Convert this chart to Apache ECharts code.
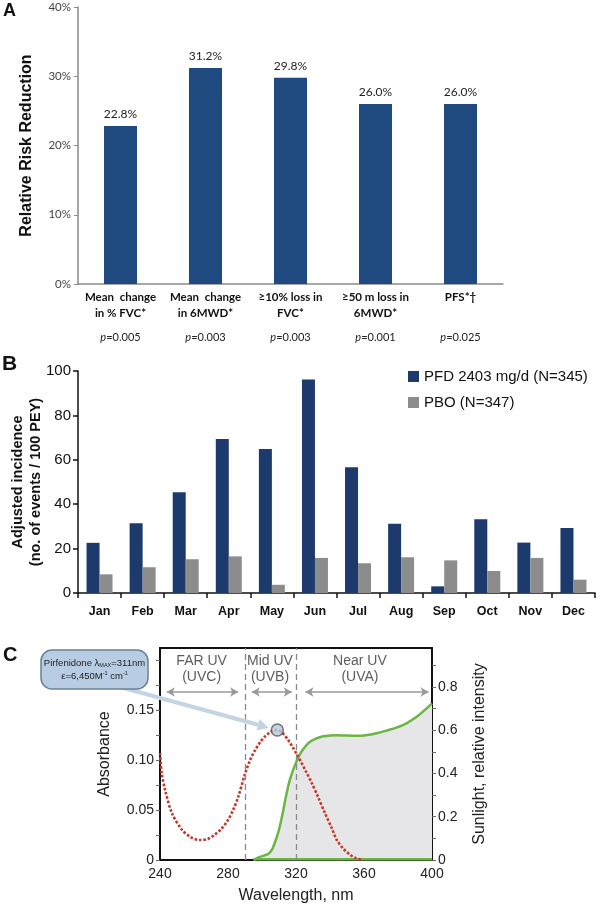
<!DOCTYPE html>
<html><head><meta charset="utf-8">
<script src="https://cdn.jsdelivr.net/npm/echarts@6/dist/echarts.min.js"></script>
<style>html,body{margin:0;padding:0;background:#fff}#c{width:600px;height:908px}</style>
</head><body><div id="c"></div>
<script>
// ---- Panel A data ----
const aCategories = ['Mean  change\nin % FVC*', 'Mean  change\nin 6MWD*', '≥10% loss in\nFVC*', '≥50 m loss in\n6MWD*', 'PFS*†'];
const aValues = [22.8, 31.2, 29.8, 26.0, 26.0];
const aPValues = ['0.005', '0.003', '0.003', '0.001', '0.025'];
const aTicks = [0, 10, 20, 30, 40];

// ---- Panel B data ----
const bMonths = ['Jan','Feb','Mar','Apr','May','Jun','Jul','Aug','Sep','Oct','Nov','Dec'];
const bPfd = [22.6, 31.4, 45.4, 69.4, 64.9, 96.2, 56.6, 31.2, 3.0, 33.2, 22.7, 29.3];
const bPbo = [8.4, 11.6, 15.2, 16.5, 3.7, 15.8, 13.4, 16.1, 14.7, 9.9, 15.8, 6.0];
const bSeriesNames = ['PFD 2403 mg/d (N=345)', 'PBO (N=347)'];

// ---- Panel C data ----
const absWavelength = [240,241,243,247,253,258,263,268,272,276,280,283,286,290,293,296,299,302,305,307,309,312,315,318,321,323,326,329,333,337,341,344,348,352,355,359];
const absValue =      [0.107,0.087,0.070,0.047,0.030,0.023,0.020,0.021,0.025,0.031,0.040,0.050,0.063,0.086,0.100,0.110,0.118,0.124,0.128,0.130,0.130,0.127,0.121,0.113,0.104,0.098,0.088,0.078,0.063,0.047,0.032,0.020,0.011,0.005,0.002,0.000];
const sunWavelength = [295,298,301,304,306,308,310,312,314,316,318,320,322,325,328,332,336,340,344,350,356,362,368,374,379,385,391,396,400];
const sunValue =      [0.000,0.012,0.020,0.030,0.050,0.090,0.140,0.210,0.290,0.360,0.410,0.450,0.485,0.520,0.545,0.562,0.572,0.576,0.577,0.575,0.574,0.578,0.587,0.600,0.612,0.632,0.662,0.695,0.724];
const sunBaseline = [[295, 0.004], [400, 0.004]];
const peakPoint = [309, 0.130];
const uvBoundaries = [290, 320];
const uvBands = [
  {name: 'FAR UV\n(UVC)', center: 264.5, from: 244, to: 286},
  {name: 'Mid UV\n(UVB)', center: 304.7, from: 294, to: 317.5},
  {name: 'Near UV\n(UVA)', center: 357.6, from: 325.5, to: 398}
];
const bandLabelY = 0.1905;
const bandArrowY = 0.168;

const chart = echarts.init(document.getElementById('c'), null, {renderer: 'canvas'});
const ARIAL = '"Liberation Sans", Arial, sans-serif';
const CAL = 'Lato, "Open Sans", sans-serif';

const option = {
  animation: false,
  backgroundColor: '#fff',
  textStyle: {fontFamily: ARIAL},
  grid: [
    {left: 78, top: 7, width: 425, height: 277, outerBoundsMode: 'none', containLabel: false},
    {left: 78, top: 371, width: 517, height: 222, outerBoundsMode: 'none', containLabel: false},
    {left: 160, top: 648, width: 272, height: 212, outerBoundsMode: 'none', containLabel: false,
     show: true, borderColor: '#111', borderWidth: 2, backgroundColor: 'transparent'}
  ],
  legend: {
    data: bSeriesNames,
    orient: 'vertical', left: 403, top: 364,
    itemWidth: 11, itemHeight: 11, itemGap: 11,
    icon: 'rect',
    textStyle: {fontSize: 15, color: '#111', fontFamily: ARIAL}
  },
  xAxis: [
    {gridIndex: 0, type: 'category', data: aCategories,
     axisLine: {lineStyle: {color: '#8a8a8a', width: 1.5}},
     axisTick: {show: false},
     axisLabel: {
       interval: 0, margin: 5,
       formatter: (val, idx) => {
         const l = val.split('\n');
         return '{b|' + l[0] + '}\n{b|' + (l[1] || ' ') + '}\n{i|p}{n|=' + aPValues[idx] + '}';
       },
       rich: {
         b: {fontFamily: CAL, fontWeight: 'bold', fontSize: 11.5, lineHeight: 16, color: '#111'},
         i: {fontFamily: CAL, fontStyle: 'italic', fontSize: 11, lineHeight: 32, color: '#222'},
         n: {fontFamily: CAL, fontSize: 11, lineHeight: 32, color: '#222'}
       }
     }},
    {gridIndex: 1, type: 'category', data: bMonths,
     axisLine: {lineStyle: {color: '#111', width: 1.5}},
     axisTick: {show: true, length: 5, lineStyle: {color: '#111', width: 1.5}},
     axisLabel: {margin: 12, fontWeight: 'bold', fontSize: 12.5, color: '#111', fontFamily: ARIAL}},
    {gridIndex: 2, type: 'value', min: 240, max: 400, interval: 40,
     axisLine: {show: false}, axisTick: {show: false}, splitLine: {show: false},
     axisLabel: {fontSize: 14, color: '#222', margin: 7},
     name: 'Wavelength, nm', nameLocation: 'middle', nameGap: 28,
     nameTextStyle: {fontSize: 16, color: '#222'}}
  ],
  yAxis: [
    {gridIndex: 0, type: 'value', min: 0, max: 40, interval: 10,
     axisLine: {show: true, lineStyle: {color: '#8a8a8a', width: 1.5}},
     axisTick: {show: true, length: 4, lineStyle: {color: '#8a8a8a'}},
     splitLine: {show: false},
     axisLabel: {formatter: '{value}%', fontSize: 11.5, color: '#444', fontFamily: CAL, margin: 7},
     name: 'Relative Risk Reduction', nameLocation: 'middle', nameGap: 43, nameMoveOverlap: false,
     nameTextStyle: {fontSize: 16, fontWeight: 'bold', color: '#111', fontFamily: ARIAL}},
    {gridIndex: 1, type: 'value', min: 0, max: 100, interval: 20,
     axisLine: {show: true, lineStyle: {color: '#111', width: 1.5}},
     axisTick: {show: true, length: 5, lineStyle: {color: '#111', width: 1.5}},
     splitLine: {show: false},
     axisLabel: {fontSize: 15, color: '#111', margin: 7},
     name: 'Adjusted incidence\n(no. of events / 100 PEY)', nameLocation: 'middle', nameGap: 33, nameMoveOverlap: false,
     nameTextStyle: {fontSize: 14.5, fontWeight: 'bold', color: '#111', lineHeight: 18}},
    {gridIndex: 2, type: 'value', min: 0, max: 0.212, interval: 0.025,
     axisLine: {show: false},
     axisTick: {show: true, length: 4, lineStyle: {color: '#666'}},
     splitLine: {show: false},
     axisLabel: {fontSize: 14, color: '#222', margin: 6, showMaxLabel: false,
       formatter: v => {
         const k = v / 0.05;
         if (Math.abs(k - Math.round(k)) > 1e-6 || v > 0.19) return '';
         return v < 1e-9 ? '0' : v.toFixed(2);
       }},
     name: 'Absorbance', nameLocation: 'middle', nameGap: 47,
     nameTextStyle: {fontSize: 16, color: '#222'}},
    {gridIndex: 2, type: 'value', position: 'right', min: 0, max: 0.98, interval: 0.1,
     axisLine: {show: false},
     axisTick: {show: true, length: 4, lineStyle: {color: '#666'}},
     splitLine: {show: false},
     axisLabel: {fontSize: 14, color: '#222', margin: 6, showMaxLabel: false,
       formatter: v => {
         const k = v / 0.2;
         if (Math.abs(k - Math.round(k)) > 1e-6 || v > 0.85) return '';
         return v < 1e-9 ? '0' : v.toFixed(1);
       }},
     name: 'Sunlight, relative intensity', nameLocation: 'middle', nameGap: 40,
     nameTextStyle: {fontSize: 16, color: '#222'}}
  ],
  series: [
    {name: 'Relative Risk Reduction', type: 'bar', xAxisIndex: 0, yAxisIndex: 0,
     data: aValues, barWidth: 33,
     itemStyle: {color: '#1f4a80'},
     label: {show: true, position: 'top', distance: 6, formatter: p => p.value.toFixed(1) + '%',
       fontSize: 12, color: '#222', fontFamily: CAL}},
    {name: bSeriesNames[0], type: 'bar', xAxisIndex: 1, yAxisIndex: 1,
     data: bPfd, barWidth: 13, barGap: '0%', itemStyle: {color: '#1c3a6c'}},
    {name: bSeriesNames[1], type: 'bar', xAxisIndex: 1, yAxisIndex: 1,
     data: bPbo, barWidth: 13, barGap: '0%', itemStyle: {color: '#8c8c8c'}},
    {name: 'Sunlight', type: 'line', xAxisIndex: 2, yAxisIndex: 3,
     data: sunWavelength.map((w, i) => [w, sunValue[i]]),
     smooth: 0.3, showSymbol: false, symbol: 'none',
     lineStyle: {color: '#6cb544', width: 2.5},
     areaStyle: {color: '#e6e6e9', opacity: 1},
     z: 2,
     markLine: {
       silent: true, animation: false, symbol: ['none', 'none'],
       lineStyle: {color: '#8a8a8a', type: [6, 4], width: 1.3},
       label: {show: false},
       data: uvBoundaries.map(x => ({xAxis: x}))
     }},
    {name: 'SunBase', type: 'line', xAxisIndex: 2, yAxisIndex: 3,
     data: sunBaseline, showSymbol: false, symbol: 'none',
     lineStyle: {color: '#6cb544', width: 2.5}, z: 3},
    {name: 'Absorbance', type: 'line', xAxisIndex: 2, yAxisIndex: 2,
     data: absWavelength.map((w, i) => [w, absValue[i]]),
     smooth: 0.3, showSymbol: false, symbol: 'none',
     lineStyle: {color: '#c0392b', width: 2.6, type: [2.6, 1.8]},
     z: 4,
     markLine: {
       silent: true, animation: false,
       symbol: ['arrow', 'arrow'], symbolSize: [7, 8],
       lineStyle: {color: '#999', width: 1.5, type: 'solid'},
       label: {show: false},
       data: uvBands.map(b => [{coord: [b.from, bandArrowY]}, {coord: [b.to, bandArrowY]}])
     }},
    {name: 'Bands', type: 'scatter', xAxisIndex: 2, yAxisIndex: 2,
     data: uvBands.map(b => ({name: b.name, value: [b.center, bandLabelY]})),
     symbolSize: 0, silent: true,
     label: {show: true, position: 'inside', formatter: '{b}', fontSize: 14, lineHeight: 16, color: '#333'}},
    {name: 'Peak', type: 'scatter', xAxisIndex: 2, yAxisIndex: 2,
     data: [peakPoint], symbolSize: 12, z: 10,
     itemStyle: {color: '#b5c9df', borderColor: '#555', borderWidth: 1.5}}
  ]
};
chart.setOption(option);

// annotation graphics (panel letters, callout, arrow to peak)
const peakPx = chart.convertToPixel({seriesIndex: 7}, peakPoint);
const start = [120, 687];
const dx = peakPx[0] - start[0], dy = peakPx[1] - start[1];
const len = Math.sqrt(dx * dx + dy * dy);
const ux = dx / len, uy = dy / len;
const tip = [peakPx[0] - ux * 9, peakPx[1] - uy * 9];
const base = [tip[0] - ux * 11, tip[1] - uy * 11];
const px = -uy, py = ux;
chart.setOption({
  graphic: [
    {type: 'text', left: 3, top: 2, style: {text: 'A', font: 'bold 18px "Liberation Sans", Arial', fill: '#111'}},
    {type: 'text', left: 2, top: 354, style: {text: 'B', font: 'bold 21px "Liberation Sans", Arial', fill: '#111'}},
    {type: 'text', left: 3, top: 645, style: {text: 'C', font: 'bold 20px "Liberation Sans", Arial', fill: '#111'}},
    {type: 'line', shape: {x1: start[0], y1: start[1], x2: base[0], y2: base[1]},
     style: {stroke: '#c4d4e4', lineWidth: 4}, z: 20},
    {type: 'polygon', shape: {points: [tip, [base[0] + px * 6, base[1] + py * 6], [base[0] - px * 6, base[1] - py * 6]]},
     style: {fill: '#c4d4e4'}, z: 20},
    {type: 'rect', shape: {x: 41, y: 650, width: 107, height: 39, r: 11},
     style: {fill: '#b8cce4', stroke: '#6b7f96', lineWidth: 1.5}, z: 21},
    {type: 'text', x: 94.5, y: 669.5, z: 22,
     style: {
       text: '{a|Pirfenidone λ}{s|MAX}{a|=311nm}\n{a|ε=6,450M}{u|-1}{a| cm}{u|-1}',
       align: 'center', verticalAlign: 'middle',
       rich: {
         a: {fontSize: 9.5, fill: '#222', fontFamily: ARIAL, lineHeight: 13},
         s: {fontSize: 5.5, fill: '#222', fontFamily: ARIAL, lineHeight: 13, padding: [5, 0, 0, 0]},
         u: {fontSize: 5.5, fill: '#222', fontFamily: ARIAL, lineHeight: 13, padding: [0, 0, 5, 0]}
       }
     }}
  ]
});
</script>
</body></html>
